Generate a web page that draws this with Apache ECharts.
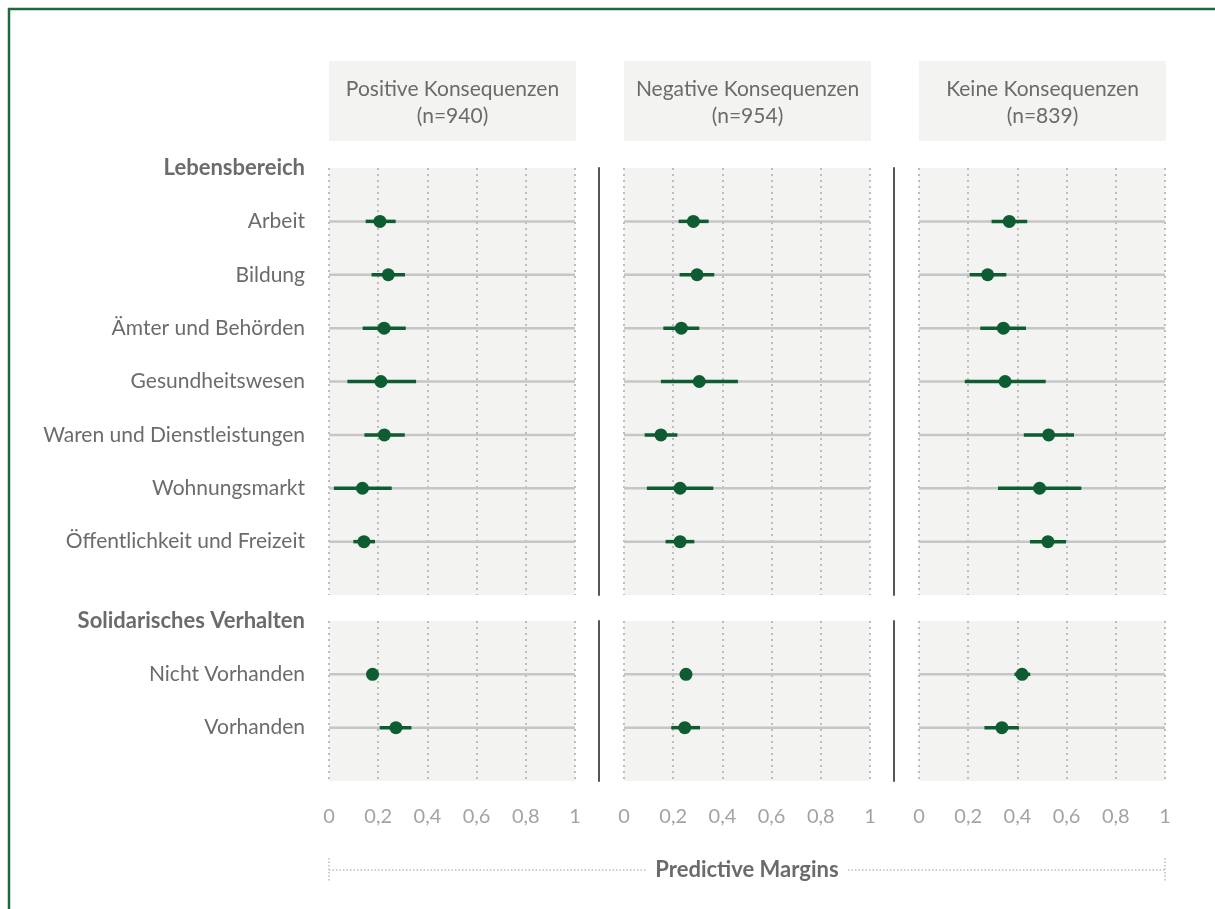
<!DOCTYPE html>
<html>
<head>
<meta charset="utf-8">
<script src="https://cdn.jsdelivr.net/npm/echarts@6/dist/echarts.min.js"></script>
<style>
  html, body { margin: 0; padding: 0; background: #ffffff; }
  #chart { width: 1215px; height: 909px; }
</style>
</head>
<body>
<div id="chart"></div>
<script>
// Panel titles and sample sizes
const panelTitles = ['Positive Konsequenzen', 'Negative Konsequenzen', 'Keine Konsequenzen'];
const panelN = [940, 954, 839];

// Row labels
const lifeHeader = 'Lebensbereich';
const lifeAreas = ['Arbeit', 'Bildung', 'Ämter und Behörden', 'Gesundheitswesen',
  'Waren und Dienstleistungen', 'Wohnungsmarkt', 'Öffentlichkeit und Freizeit'];
const solHeader = 'Solidarisches Verhalten';
const solLevels = ['Nicht Vorhanden', 'Vorhanden'];

// Tick values of the margin axis
const xTicks = [0, 0.2, 0.4, 0.6, 0.8, 1];

// Predictive margins with 95% confidence bounds – Lebensbereich
const posLifeEst = [0.207, 0.241, 0.224, 0.211, 0.225, 0.136, 0.142];
const posLifeLo  = [0.149, 0.173, 0.137, 0.075, 0.144, 0.020, 0.099];
const posLifeHi  = [0.271, 0.309, 0.312, 0.354, 0.308, 0.255, 0.187];

const negLifeEst = [0.282, 0.297, 0.233, 0.306, 0.150, 0.228, 0.228];
const negLifeLo  = [0.222, 0.226, 0.160, 0.150, 0.084, 0.093, 0.169];
const negLifeHi  = [0.344, 0.367, 0.306, 0.463, 0.217, 0.363, 0.286];

const noneLifeEst = [0.367, 0.279, 0.343, 0.350, 0.527, 0.490, 0.524];
const noneLifeLo  = [0.295, 0.206, 0.249, 0.186, 0.426, 0.321, 0.451];
const noneLifeHi  = [0.440, 0.355, 0.435, 0.515, 0.630, 0.660, 0.598];

// Predictive margins – Solidarisches Verhalten
const posSolEst = [0.177, 0.272];
const posSolLo  = [0.160, 0.206];
const posSolHi  = [0.195, 0.335];

const negSolEst = [0.252, 0.247];
const negSolLo  = [0.235, 0.192];
const negSolHi  = [0.270, 0.309];

const noneSolEst = [0.419, 0.337];
const noneSolLo  = [0.388, 0.266];
const noneSolHi  = [0.452, 0.406];

const panelData = [
  { life: [posLifeEst, posLifeLo, posLifeHi],   sol: [posSolEst, posSolLo, posSolHi] },
  { life: [negLifeEst, negLifeLo, negLifeHi],   sol: [negSolEst, negSolLo, negSolHi] },
  { life: [noneLifeEst, noneLifeLo, noneLifeHi], sol: [noneSolEst, noneSolLo, noneSolHi] }
];

// ---- layout ----
const FONT = 'Lato, "Open Sans", sans-serif';
const GREEN = '#0d5c32';
const PANEL_BG = '#f3f3f2';
const TEXT = '#6b6b6b';
const colLeft = [329, 624, 919];
const colWidth = 246;
const topBlock = { top: 168, height: 427 };
const botBlock = { top: 621, height: 160 };

const grids = [], xAxes = [], yAxes = [], series = [];

const topLabels = [lifeHeader].concat(lifeAreas, ['']);
const botLabels = [solHeader].concat(solLevels, ['']);

function addPanel(col, block, labels, triple, isBottom) {
  const gi = grids.length;
  grids.push({
    left: colLeft[col], top: block.top, width: colWidth, height: block.height,
    show: true, backgroundColor: PANEL_BG, borderWidth: 0
  });
  xAxes.push({
    gridIndex: gi, type: 'value', min: 0, max: 1, interval: 0.2,
    axisLine: { show: false }, axisTick: { show: false },
    splitLine: { show: true, lineStyle: { type: [2, 4], color: '#bdbdbd', width: 2 } },
    axisLabel: {
      show: isBottom, margin: 26, color: '#a3a3a3', fontSize: 20, fontFamily: FONT,
      formatter: v => xTicks.includes(Math.round(v * 10) / 10) ? String(Math.round(v * 10) / 10).replace('.', ',') : ''
    }
  });
  const nRows = labels.length - 1;
  yAxes.push({
    gridIndex: gi, type: 'value', min: 0, max: nRows, interval: 1, inverse: true,
    splitLine: { show: false }, axisTick: { show: false },
    axisLine: { show: col > 0, onZero: false, lineStyle: { color: '#555555', width: 2 } },
    offset: col > 0 ? 25 : 0,
    axisLabel: {
      show: col === 0, margin: 24, fontSize: 21, fontFamily: FONT, color: TEXT,
      formatter: v => {
        const t = labels[Math.round(v)] || '';
        return Math.round(v) === 0 ? '{h|' + t + '}' : t;
      },
      rich: { h: { fontWeight: 'bold', fontSize: 22, fontFamily: FONT, color: TEXT } }
    }
  });
  const [est, lo, hi] = triple;
  // row guide lines and confidence intervals
  series.push({
    type: 'custom', xAxisIndex: gi, yAxisIndex: gi, z: 2,
    data: est.map((e, i) => [lo[i], hi[i], i + 1]),
    renderItem: (params, api) => {
      const row = api.value(2);
      const a = api.coord([0, row]);
      const b = api.coord([1, row]);
      const l = api.coord([api.value(0), row]);
      const r = api.coord([api.value(1), row]);
      return {
        type: 'group',
        children: [
          { type: 'line', shape: { x1: a[0], y1: a[1], x2: b[0], y2: b[1] },
            style: { stroke: '#c6c6c6', lineWidth: 2.5 } },
          { type: 'line', shape: { x1: l[0], y1: l[1], x2: r[0], y2: r[1] },
            style: { stroke: GREEN, lineWidth: 3.5 } }
        ]
      };
    }
  });
  // point estimates
  series.push({
    type: 'scatter', xAxisIndex: gi, yAxisIndex: gi, z: 3,
    symbol: 'circle', symbolSize: 13,
    itemStyle: { color: GREEN, opacity: 1 },
    data: est.map((e, i) => [e, i + 1])
  });
}

for (let c = 0; c < 3; c++) {
  addPanel(c, topBlock, topLabels, panelData[c].life, false);
}
for (let c = 0; c < 3; c++) {
  addPanel(c, botBlock, botLabels, panelData[c].sol, true);
}

// panel headers
const graphics = [];
for (let c = 0; c < 3; c++) {
  graphics.push({
    type: 'rect', left: colLeft[c], top: 61,
    shape: { width: 247, height: 80 }, style: { fill: PANEL_BG }
  });
  graphics.push({
    type: 'text', x: colLeft[c] + 123.5, y: 103,
    style: {
      text: panelTitles[c] + '\n(n=' + panelN[c] + ')',
      fill: TEXT, font: '21px ' + FONT, align: 'center', verticalAlign: 'middle',
      lineHeight: 27
    }
  });
}

// shared axis title with a dotted bracket
const bracketY = 870;
const bracketStyle = { stroke: '#bcbcbc', lineWidth: 1.5, lineDash: [1.5, 2] };
graphics.push(
  { type: 'line', shape: { x1: 329, y1: bracketY, x2: 646, y2: bracketY }, style: bracketStyle },
  { type: 'line', shape: { x1: 848, y1: bracketY, x2: 1165, y2: bracketY }, style: bracketStyle },
  { type: 'line', shape: { x1: 329, y1: bracketY - 12, x2: 329, y2: bracketY + 12 }, style: bracketStyle },
  { type: 'line', shape: { x1: 1165, y1: bracketY - 12, x2: 1165, y2: bracketY + 12 }, style: bracketStyle },
  { type: 'text', x: 747, y: bracketY,
    style: { text: 'Predictive Margins', fill: TEXT, font: 'bold 22px ' + FONT,
             align: 'center', verticalAlign: 'middle' } }
);

// frame along the top and left edges
graphics.push(
  { type: 'line', shape: { x1: 8, y1: 9, x2: 1215, y2: 9 }, style: { stroke: '#1c6a3c', lineWidth: 2.5 } },
  { type: 'line', shape: { x1: 9, y1: 8, x2: 9, y2: 909 }, style: { stroke: '#1c6a3c', lineWidth: 2.5 } }
);

const chart = echarts.init(document.getElementById('chart'), null, { renderer: 'canvas' });
chart.setOption({
  animation: false,
  backgroundColor: '#ffffff',
  grid: grids,
  xAxis: xAxes,
  yAxis: yAxes,
  series: series,
  graphic: graphics
});
</script>
</body>
</html>
